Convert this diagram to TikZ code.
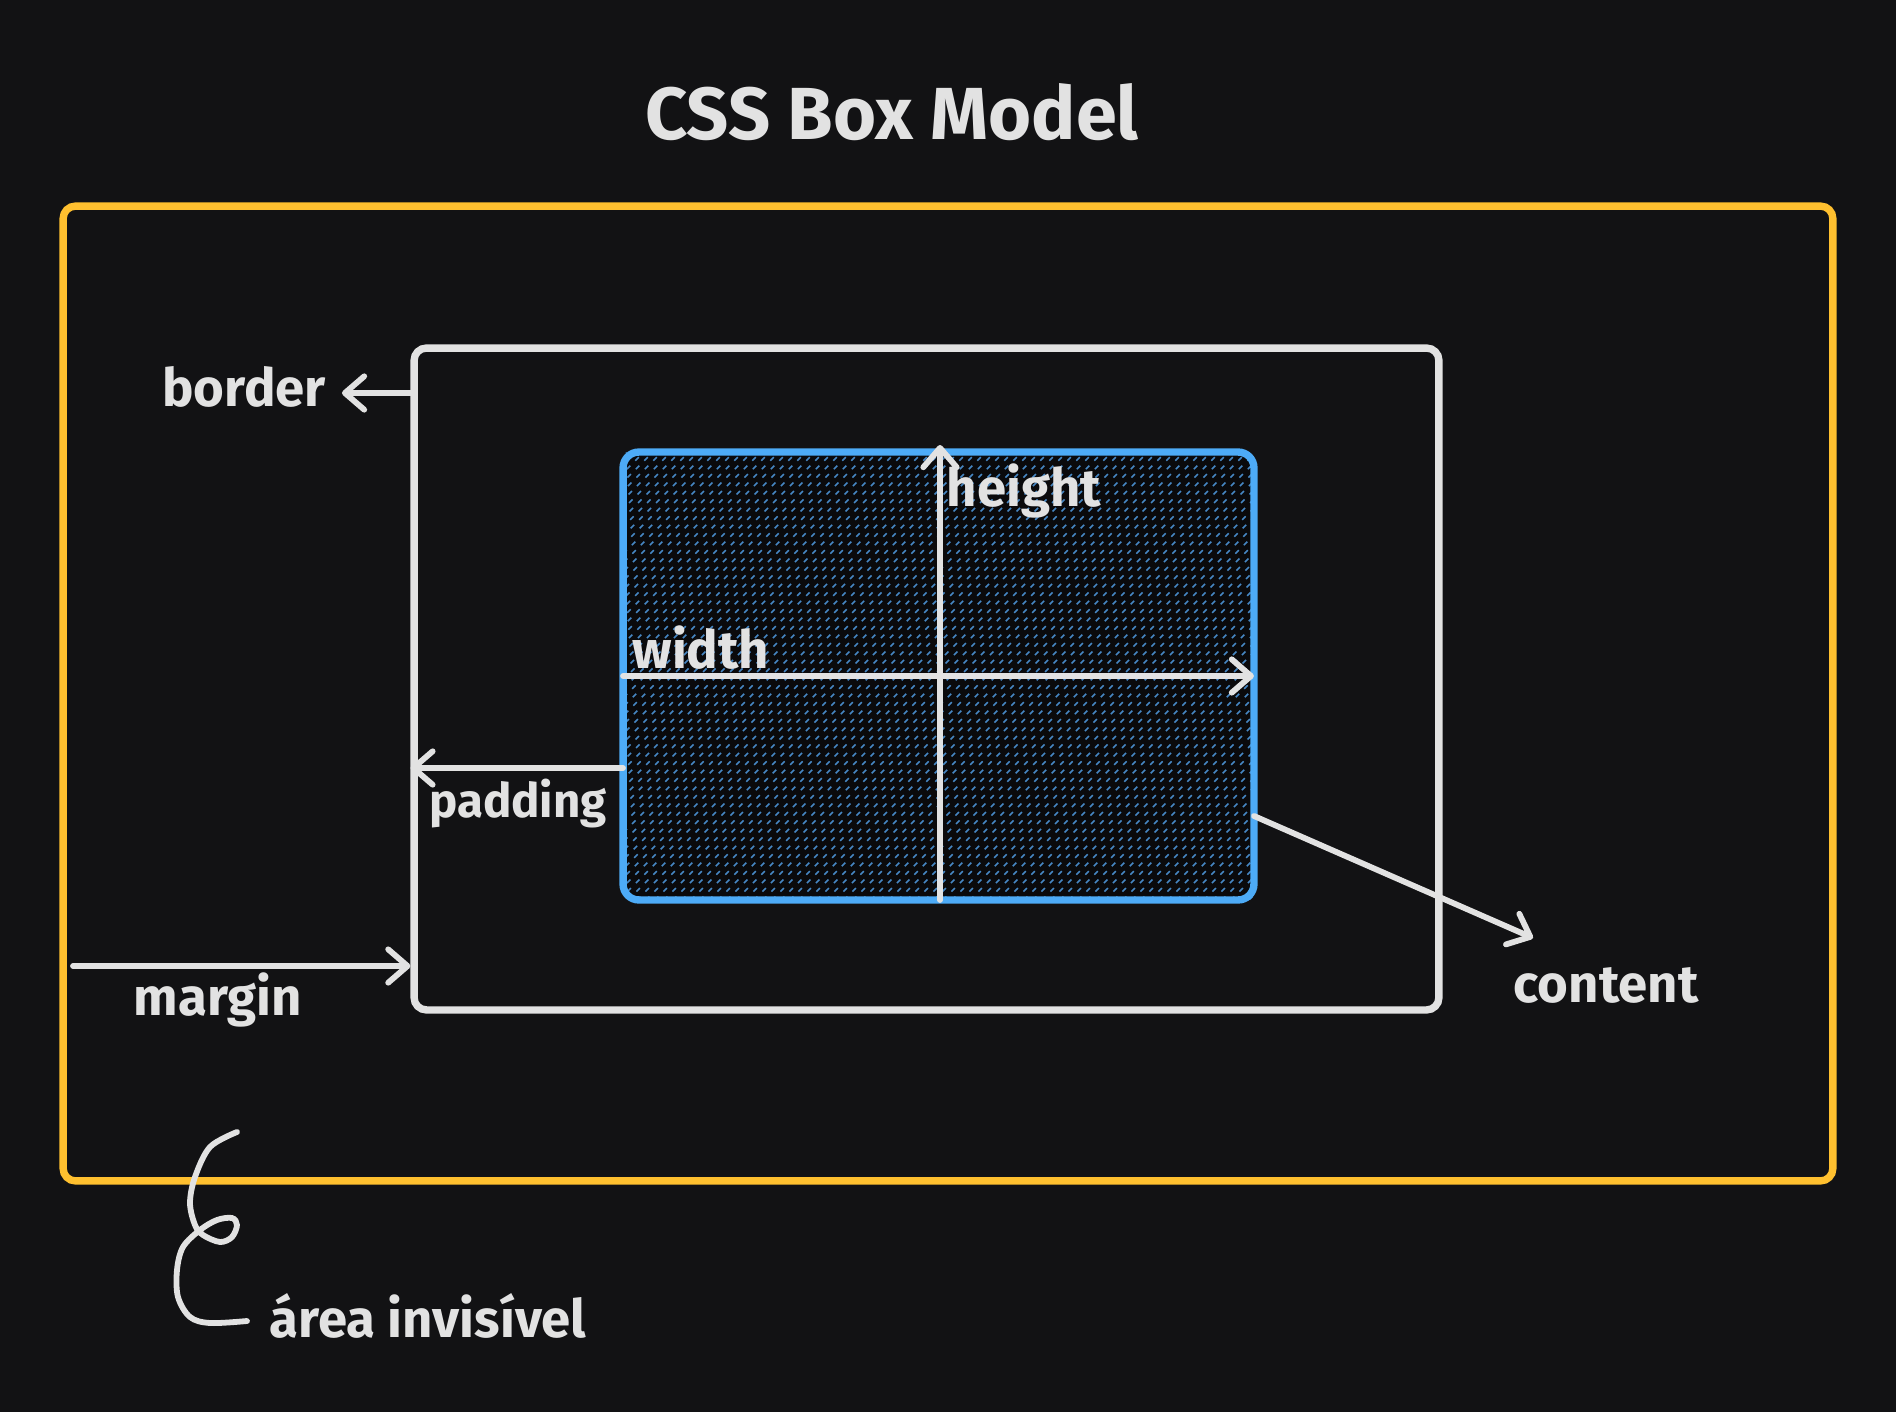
\documentclass[tikz,border=0pt]{standalone}
\usepackage{fontspec}
\setmainfont{Fira Sans}
\usetikzlibrary{arrows.meta}
\definecolor{bgDark}{RGB}{18,18,20}
\definecolor{boxYellow}{RGB}{255,192,47}
\definecolor{boxBlue}{RGB}{77,171,247}
\definecolor{hatchBlue}{RGB}{70,135,195}
\definecolor{inkWhite}{RGB}{226,226,226}
\definecolor{contentFill}{RGB}{10,10,12}

\begin{document}
\begin{tikzpicture}[x=0.02cm, y=-0.02cm,
    lbl/.style={text=inkWhite, font=\fontsize{30}{32}\selectfont\bfseries, inner sep=0pt},
    arr/.style={draw=inkWhite, line width=3.3pt, line cap=round, -{Straight Barb[length=11pt,width=19pt,round]}},
    box/.style={draw, line width=4.2pt, rounded corners=7pt, inner sep=0pt}]
  \fill[bgDark] (0,0) rectangle (1896,1412);
  \node[lbl, font=\fontsize{42}{44}\selectfont\bfseries] (title) at (892,112) {CSS Box Model};
  % the three boxes
  \node[box, draw=boxYellow, minimum width=35.4cm, minimum height=19.5cm] (marginbox) at (948,693.5) {};
  \node[box, draw=inkWhite, minimum width=20.5cm, minimum height=13.24cm] (borderbox) at (926.5,679) {};
  \node[box, draw=none, outer sep=0pt, rounded corners=9pt, fill=contentFill,
    minimum width=12.62cm, minimum height=8.96cm] (contentbox) at (938.5,676) {};
  \begin{scope}
    \clip (contentbox.south west) rectangle (contentbox.north east);
    \foreach \i in {160,169,...,1260}
      \draw[hatchBlue, line width=0.9pt, dash pattern=on 2.8pt off 4pt] (\i,900) -- ++(460,-460);
  \end{scope}
  \draw[box, draw=boxBlue, rounded corners=9pt] (contentbox.south west) rectangle (contentbox.north east);
  % labels
  \node[lbl] (lblborder) at (244,387) {border};
  \node[lbl] (lblmargin) at (218,1000) {margin};
  \node[lbl, font=\fontsize{27}{29}\selectfont\bfseries] (lblpadding) at (518,804) {padding};
  \node[lbl] (lblwidth) at (701,648) {width};
  \node[lbl] (lblheight) at (1024,491) {height};
  \node[lbl] (lblcontent) at (1606,985) {content};
  \node[lbl] (lblarea) at (428,1316) {área invisível};
  % arrows
  \coordinate (bordL) at (411,393);
  \draw[arr] (bordL) -- ([xshift=9pt]bordL -| lblborder.east);
  \coordinate (mstart) at (73,966);
  \draw[arr] (mstart) -- (mstart -| borderbox.west);
  \coordinate (padR) at (623,768);
  \draw[arr] (padR) -- (padR -| borderbox.west);
  \coordinate (hTop) at (940,445);
  \draw[arr] (contentbox.south -| hTop) -- (hTop);
  \draw[arr] (contentbox.west) -- (contentbox.east);
  \coordinate (cOut) at (1254,816);
  \coordinate (cTip) at (1533,938);
  \draw[arr] (cOut) -- (cTip);
  % curl under the margin box
  \draw[inkWhite, line width=3.3pt, line cap=round] plot[smooth, tension=0.55] coordinates {
    (237,1132) (210,1147) (195,1177) (190,1203) (195,1225) (203,1235) (220,1242)
    (232,1237) (237,1225) (232,1218) (217,1220) (200,1230) (183,1247) (177,1270)
    (178,1297) (190,1317) (210,1323) (247,1321)};
\end{tikzpicture}
\end{document}
